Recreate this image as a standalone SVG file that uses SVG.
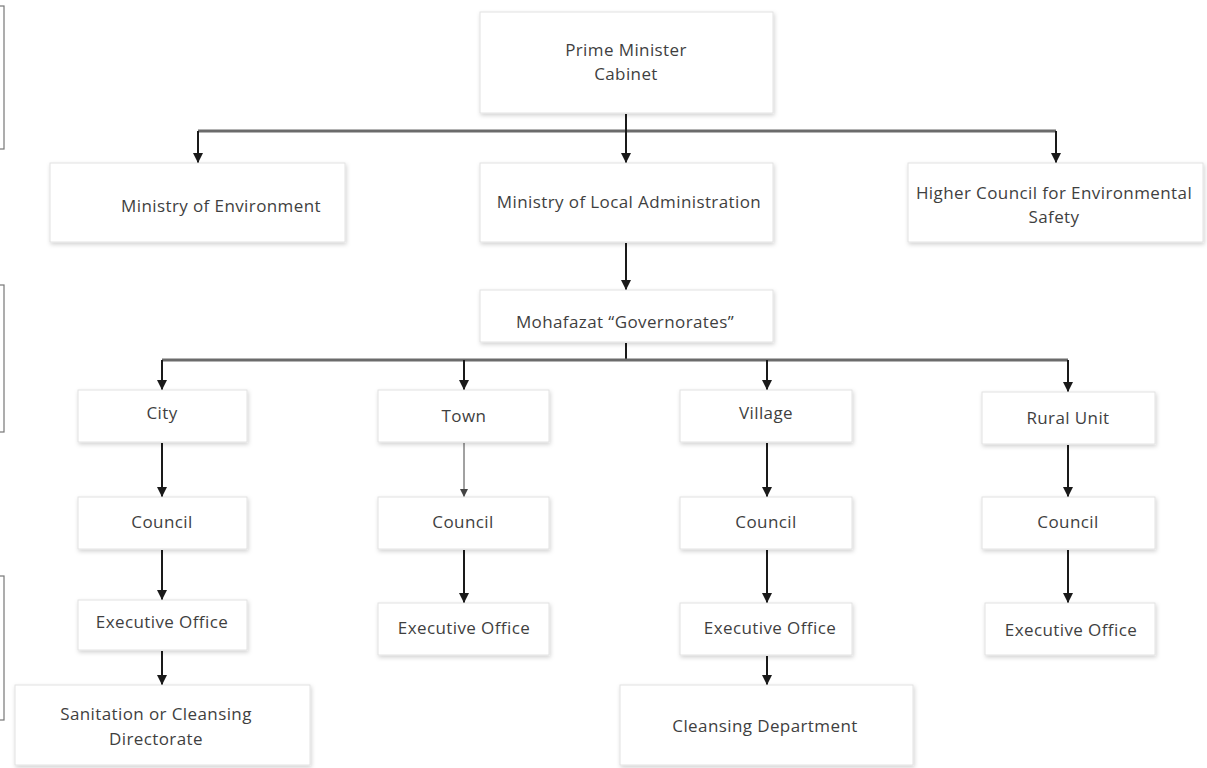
<svg xmlns="http://www.w3.org/2000/svg" width="1207" height="768" viewBox="0 0 1207 768">
<defs>
<filter id="sh" x="-10%" y="-20%" width="120%" height="150%">
<feDropShadow dx="1" dy="2" stdDeviation="2" flood-color="#000" flood-opacity="0.18"/>
</filter>
<marker id="ah" viewBox="0 0 10 10" refX="10" refY="5" markerWidth="5" markerHeight="5" markerUnits="strokeWidth" orient="auto">
<path d="M0,0 L10,5 L0,10 z" fill="#1a1a1a"/>
</marker>
<marker id="ahs" viewBox="0 0 10 10" refX="10" refY="5" markerWidth="8" markerHeight="8" markerUnits="strokeWidth" orient="auto">
<path d="M0,0 L10,5 L0,10 z" fill="#444"/>
</marker>
</defs>
<style>
.box{fill:#fff;stroke:#e2e2e2;stroke-width:1;filter:url(#sh)}
.t{font-family:"Open Sans","DejaVu Sans",sans-serif;font-size:17px;letter-spacing:0.4px;fill:#3f3f3f;text-anchor:middle}
.bus{stroke:#6b6b6b;stroke-width:3;fill:none}
.ar{stroke:#1a1a1a;stroke-width:2;fill:none;marker-end:url(#ah)}
.thin{stroke:#444;stroke-width:1;fill:none;marker-end:url(#ahs)}
.br{fill:none;stroke:#777;stroke-width:1.2}
</style>
<rect width="1207" height="768" fill="#fff"/>
<g id="side-brackets">
<rect class="br" x="-20" y="6" width="24" height="143"/>
<rect class="br" x="-20" y="285" width="24" height="147"/>
<rect class="br" x="-20" y="576" width="24" height="144"/>
</g>
<g id="connectors">
<line class="bus" x1="198" y1="131" x2="1056" y2="131"/>
<line x1="626" y1="114" x2="626" y2="131" stroke="#1a1a1a" stroke-width="2"/>
<line class="ar" x1="626" y1="131" x2="626" y2="163"/>
<line class="ar" x1="198" y1="131" x2="198" y2="163"/>
<line class="ar" x1="1056" y1="131" x2="1056" y2="163"/>
<line class="ar" x1="626" y1="243" x2="626" y2="290"/>
<line x1="626" y1="343" x2="626" y2="360" stroke="#1a1a1a" stroke-width="2"/>
<line class="bus" x1="162" y1="360" x2="1068" y2="360"/>
<line class="ar" x1="162" y1="360" x2="162" y2="390"/>
<line class="ar" x1="464" y1="360" x2="464" y2="390"/>
<line class="ar" x1="767" y1="360" x2="767" y2="390"/>
<line class="ar" x1="1068" y1="360" x2="1068" y2="392"/>
<line class="ar" x1="162" y1="443" x2="162" y2="497"/>
<line class="thin" x1="464" y1="443" x2="464" y2="497"/>
<line class="ar" x1="767" y1="443" x2="767" y2="497"/>
<line class="ar" x1="1068" y1="445" x2="1068" y2="497"/>
<line class="ar" x1="162" y1="550" x2="162" y2="600"/>
<line class="ar" x1="464" y1="550" x2="464" y2="603"/>
<line class="ar" x1="767" y1="550" x2="767" y2="603"/>
<line class="ar" x1="1068" y1="550" x2="1068" y2="603"/>
<line class="ar" x1="162" y1="651" x2="162" y2="685"/>
<line class="ar" x1="767" y1="656" x2="767" y2="685"/>
</g>
<g id="pm"><rect class="box" x="480" y="12" width="293" height="101"/><text class="t" x="626" y="56">Prime Minister</text><text class="t" x="626" y="80">Cabinet</text></g>
<g id="moe"><rect class="box" x="50" y="163" width="295" height="79"/><text class="t" x="221" y="212">Ministry of Environment</text></g>
<g id="mola"><rect class="box" x="480" y="163" width="293" height="79"/><text class="t" x="629" y="208">Ministry of Local Administration</text></g>
<g id="hces"><rect class="box" x="908" y="163" width="295" height="79"/><text class="t" x="1054" y="199">Higher Council for Environmental</text><text class="t" x="1054" y="223">Safety</text></g>
<g id="moh"><rect class="box" x="480" y="290" width="293" height="52"/><text class="t" x="625" y="328">Mohafazat “Governorates”</text></g>
<g id="city"><rect class="box" x="78" y="390" width="169" height="52"/><text class="t" x="162" y="419">City</text></g>
<g id="town"><rect class="box" x="378" y="390" width="171" height="52"/><text class="t" x="464" y="422">Town</text></g>
<g id="village"><rect class="box" x="680" y="390" width="172" height="52"/><text class="t" x="766" y="419">Village</text></g>
<g id="rural"><rect class="box" x="982" y="392" width="173" height="52"/><text class="t" x="1068" y="424">Rural Unit</text></g>
<g id="city-council"><rect class="box" x="78" y="497" width="169" height="52"/><text class="t" x="162" y="528">Council</text></g>
<g id="town-council"><rect class="box" x="378" y="497" width="171" height="52"/><text class="t" x="463" y="528">Council</text></g>
<g id="village-council"><rect class="box" x="680" y="497" width="172" height="52"/><text class="t" x="766" y="528">Council</text></g>
<g id="rural-council"><rect class="box" x="982" y="497" width="173" height="52"/><text class="t" x="1068" y="528">Council</text></g>
<g id="city-exec"><rect class="box" x="78" y="600" width="169" height="50"/><text class="t" x="162" y="628">Executive Office</text></g>
<g id="town-exec"><rect class="box" x="378" y="603" width="171" height="52"/><text class="t" x="464" y="634">Executive Office</text></g>
<g id="village-exec"><rect class="box" x="680" y="603" width="172" height="52"/><text class="t" x="770" y="634">Executive Office</text></g>
<g id="rural-exec"><rect class="box" x="985" y="603" width="170" height="52"/><text class="t" x="1071" y="636">Executive Office</text></g>
<g id="sanitation"><rect class="box" x="15" y="685" width="295" height="80"/><text class="t" x="156" y="720">Sanitation or Cleansing</text><text class="t" x="156" y="745">Directorate</text></g>
<g id="cleansing"><rect class="box" x="620" y="685" width="293" height="80"/><text class="t" x="765" y="732">Cleansing Department</text></g>
</svg>
